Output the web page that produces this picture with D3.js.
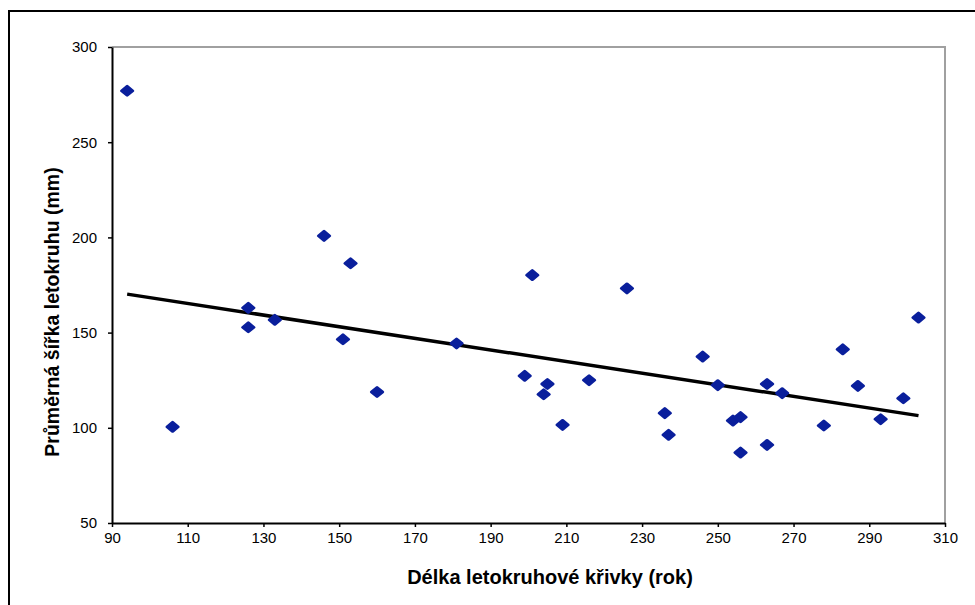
<!DOCTYPE html>
<html>
<head>
<meta charset="utf-8">
<script src="https://cdn.jsdelivr.net/npm/d3@7"></script>
<style>
  body { margin: 0; background: #fff; }
  svg { display: block; font-family: Arial, "Liberation Sans", sans-serif; }
</style>
</head>
<body>
<svg id="chart" width="975" height="605"></svg>
<script>
// ring series length (years) vs mean ring width (mm)
const years = [94, 106, 126, 126, 133, 146, 151, 153, 160, 181,
               199, 201, 204, 205, 209, 216, 226, 236, 237, 246,
               250, 254, 256, 256, 263, 263, 267, 278, 283, 287,
               293, 299, 303];
const widths = [277, 100.5, 163, 152.8, 156.7, 200.8, 146.5, 186.4, 118.8, 144.3,
                127.3, 180.2, 117.6, 123, 101.5, 125, 173.2, 107.7, 96.3, 137.4,
                122.4, 103.8, 105.6, 87, 123, 91, 118.2, 101.2, 141.2, 122,
                104.5, 115.5, 157.9];
// linear trend line endpoints
const trendX = [94, 303];
const trendY = [170.2, 106.4];

const xTicks = d3.range(90, 311, 20);
const yTicks = d3.range(50, 301, 50);

const margin = {left: 112, top: 47, right: 945, bottom: 523};

const svg = d3.select("#chart");

// outer frame
svg.append("rect")
  .attr("x", 9).attr("y", 11)
  .attr("width", 1000).attr("height", 700)
  .attr("fill", "none").attr("stroke", "#000").attr("stroke-width", 2);

const x = d3.scaleLinear().domain([90, 310]).range([margin.left, margin.right]);
const y = d3.scaleLinear().domain([50, 300]).range([margin.bottom, margin.top]);

// top and right border in gray
svg.append("path")
  .attr("d", `M${margin.left},${margin.top}H${margin.right}V${margin.bottom}`)
  .attr("fill", "none").attr("stroke", "#a0a0a0").attr("stroke-width", 2);

const xAxis = svg.append("g")
  .attr("transform", `translate(0,${margin.bottom})`)
  .call(d3.axisBottom(x).tickValues(xTicks).tickSize(4).tickPadding(5).tickSizeOuter(0));
const yAxis = svg.append("g")
  .attr("transform", `translate(${margin.left},0)`)
  .call(d3.axisLeft(y).tickValues(yTicks).tickSize(4).tickPadding(11).tickSizeOuter(0));

[xAxis, yAxis].forEach(function(g) {
  g.select(".domain").attr("stroke", "#000").attr("stroke-width", 2);
  g.selectAll(".tick line").attr("stroke", "#000").attr("stroke-width", 1.5);
  g.selectAll(".tick text").attr("fill", "#000")
    .style("font-size", "15px").style("font-family", "Arial, 'Liberation Sans', sans-serif");
});

// trend line
svg.append("path")
  .datum(d3.zip(trendX, trendY))
  .attr("fill", "none").attr("stroke", "#000").attr("stroke-width", 3.5)
  .attr("d", d3.line().x(d => x(d[0])).y(d => y(d[1])));

// points: rounded diamonds
svg.append("g")
  .selectAll("path")
  .data(d3.zip(years, widths))
  .enter().append("path")
    .attr("transform", d => `translate(${x(d[0])},${y(d[1])}) scale(1.2,1) rotate(45)`)
    .attr("d", d3.symbol().type(d3.symbolSquare).size(44))
    .attr("fill", "#0a1f9c")
    .attr("stroke", "#0a1f9c").attr("stroke-width", 2.5).attr("stroke-linejoin", "round");

// axis titles
svg.append("text")
  .attr("x", 550).attr("y", 584)
  .attr("text-anchor", "middle")
  .style("font-size", "20px").style("font-weight", "bold")
  .text("Délka letokruhové křivky (rok)");

svg.append("text")
  .attr("transform", "translate(59,312) rotate(-90)")
  .attr("text-anchor", "middle")
  .style("font-size", "19.5px").style("font-weight", "bold")
  .text("Průměrná šířka letokruhu (mm)");
</script>
</body>
</html>
